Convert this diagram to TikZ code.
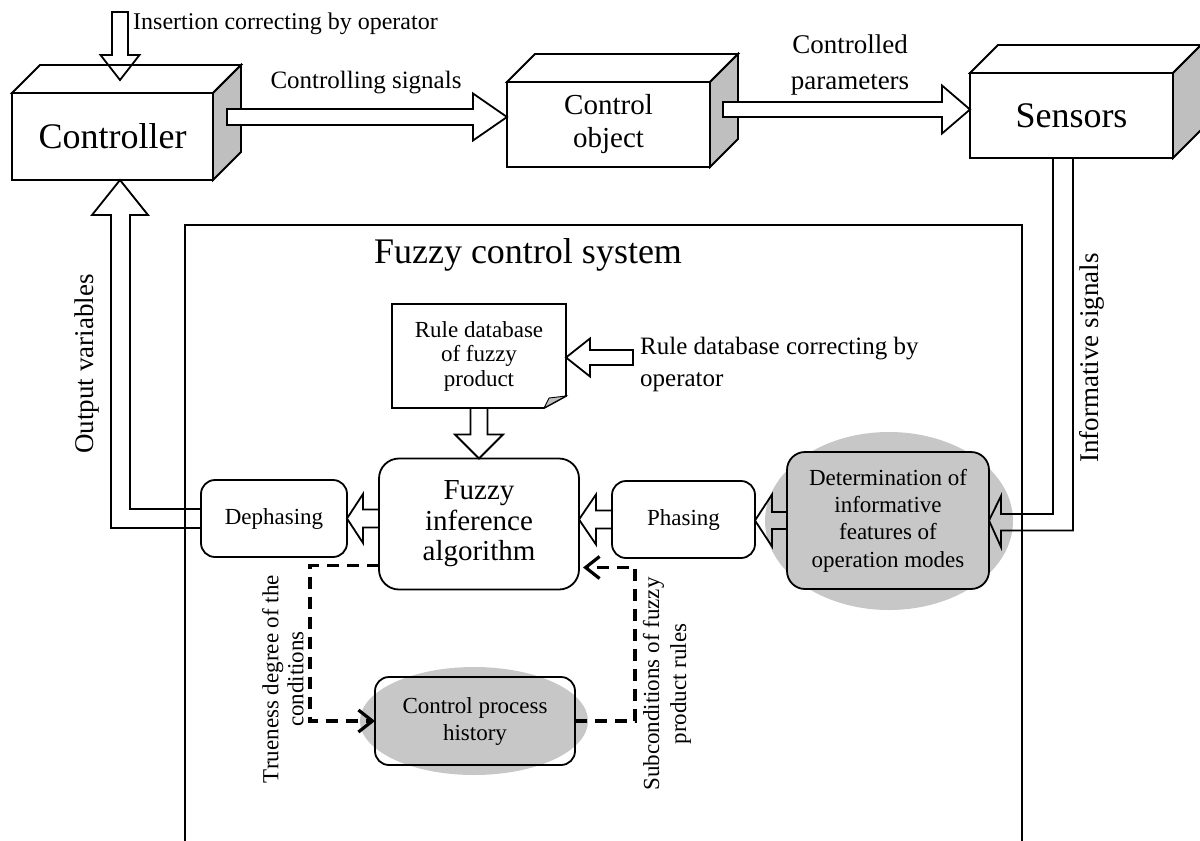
\documentclass[tikz,border=0pt]{standalone}
\usepackage{fontspec}
\setmainfont{Liberation Serif}
\usetikzlibrary{shapes.geometric, positioning, calc, arrows.meta}
\colorlet{sidegray}{black!25}
\colorlet{halogray}{black!22}

% top and side faces of a box node
\newcommand{\cubefaces}[1]{%
  \draw[boxline, fill=white] (#1.north west) -- ++(28,-28) -- ($(#1.north east)+(28,-28)$) -- (#1.north east) -- cycle;
  \draw[boxline, fill=sidegray] (#1.north east) -- ++(28,-28) -- ($(#1.south east)+(28,-28)$) -- (#1.south east) -- cycle;
}
% straight hollow arrow: [style]{tail}{tip}{half shaft}{half head}{head length}
\newcommand{\hollowarrow}[6][]{%
  \coordinate (ha-base) at ($(#3)!#6!(#2)$);
  \draw[fatarrow, #1] ($(#2)!#4!90:(#3)$) -- ($(ha-base)!#4!90:(#3)$) -- ($(ha-base)!#5!90:(#3)$) -- (#3) -- ($(ha-base)!#5!-90:(#3)$) -- ($(ha-base)!#4!-90:(#3)$) -- ($(#2)!#4!-90:(#3)$) -- cycle;
}

\begin{document}
\begin{tikzpicture}[x=1pt, y=-1pt,
  boxline/.style={line width=1.8pt, line join=miter},
  cube/.style={rectangle, draw, boxline, fill=white, inner sep=0pt, outer sep=0pt, align=center},
  unit/.style={rectangle, rounded corners=14pt, draw, boxline, fill=white, inner sep=0pt, outer sep=0pt, align=center, font=\fontsize{23}{27}\selectfont},
  halo/.style={ellipse, fill=halogray, inner sep=0pt},
  fatarrow/.style={draw, boxline},
  dashline/.style={line width=3.2pt, dash pattern=on 12pt off 8pt, -{Straight Barb[length=14pt, width=22pt]}},
  caption/.style={inner sep=0pt, align=center}]
\useasboundingbox (0,0) rectangle (1200,841);

% Plant

\node[cube, minimum width=201pt, minimum height=87pt, font=\fontsize{36}{40}\selectfont] (controller) at (112.5,136.5) {Controller};
\node[cube, minimum width=203pt, minimum height=85pt, font=\fontsize{29}{33}\selectfont] (object) at (608.5,124.5) {Control\\object};
\node[cube, minimum width=203pt, minimum height=85pt, font=\fontsize{36}{40}\selectfont] (sensors) at (1071.5,115.5) {Sensors};
\cubefaces{controller}
\cubefaces{object}
\cubefaces{sensors}

% Fuzzy control system

\node[halo, minimum width=248pt, minimum height=178pt] (determhalo) at (889,521) {};
\node[halo, minimum width=228pt, minimum height=108pt] (cphhalo) at (474,721) {};

\draw[line width=1.4pt] (185,841) |- (1022,225) -- (1022,841);
\node[caption, font=\fontsize{36}{40}\selectfont] (fcstitle) at (528,255) {Fuzzy control system};

\node[inner sep=0pt, outer sep=0pt, minimum width=174pt, minimum height=104pt, align=center, font=\fontsize{23}{24.5}\selectfont] (ruledb) at (479,356) {Rule database\\of fuzzy\\product};
\draw[boxline] (ruledb.north west) -- (ruledb.north east) -- ($(ruledb.south east)+(0,-12)$) -- ($(ruledb.south east)+(-22,0)$) -- (ruledb.south west) -- cycle;
\filldraw[fill=sidegray, line width=0.9pt] ($(ruledb.south east)+(-22,0)$) -- ($(ruledb.south east)+(0,-12)$) -- ($(ruledb.south east)+(-17,-10)$) -- cycle;

\node[unit, rounded corners=20pt, minimum width=200pt, minimum height=131pt, font=\fontsize{29}{30.5}\selectfont] (fuzzy) at (479,524) {Fuzzy\\inference\\algorithm};
\node[unit, minimum width=146pt, minimum height=77pt] (deph) at (274,518.5) {Dephasing};
\node[unit, minimum width=143pt, minimum height=77pt] (phas) at (683.5,519.5) {Phasing};
\node[unit, fill=halogray, rounded corners=18pt, minimum width=202pt, minimum height=137pt, font=\fontsize{23}{27.3}\selectfont] (determ) at (888,520.5) {Determination of\\informative\\features of\\operation modes};
\node[unit, fill=none, minimum width=200pt, minimum height=88pt] (cph) at (475,721) {Control process\\history};

% Hollow arrows

\coordinate (ins-tail) at (120,12);
\coordinate (ins-tip) at (120,80);
\hollowarrow{ins-tail}{ins-tip}{8pt}{19.5pt}{25pt}

\coordinate (cs-tail) at (227,117);
\coordinate (cs-tip) at (object.west |- cs-tail);
\hollowarrow[fill=white]{cs-tail}{cs-tip}{8pt}{23.5pt}{34pt}

\coordinate (cp-tail) at (723,109.5);
\coordinate (cp-tip) at (sensors.west |- cp-tail);
\hollowarrow[fill=white]{cp-tail}{cp-tip}{7.5pt}{24pt}{28pt}

\coordinate (rc-tail) at (633,357.5);
\coordinate (rc-tip) at (ruledb.east |- rc-tail);
\hollowarrow{rc-tail}{rc-tip}{7.5pt}{19pt}{24pt}

\hollowarrow{ruledb.south}{fuzzy.north}{8.5pt}{24pt}{24pt}

\coordinate (dp-tip) at (phas.east |- determ.west);
\hollowarrow{determ.west}{dp-tip}{8.5pt}{26pt}{17pt}

\coordinate (pf-tip) at (fuzzy.east |- phas.west);
\hollowarrow{phas.west}{pf-tip}{9pt}{25pt}{17pt}

\coordinate (fd-tail) at (fuzzy.west |- deph.west);
\hollowarrow{fd-tail}{deph.east}{9pt}{24.5pt}{16pt}

\coordinate (ov-tip) at (120,180);
\draw[fatarrow] ($(deph.west)+(0,-9.5)$) -| (130,215) -- (148,215) -- (ov-tip) -- (92,215) -- (111,215) |- ($(deph.west)+(0,9.5)$);

\draw[fatarrow] ($(sensors.south)+(-18.5,0)$) |- (1001,514) -- (1001,496) -- (determ.east) -- (1001,547) -- (1001,530.5) -| ($(sensors.south)+(1.5,0)$);

% Dashed links

\coordinate (tr-start) at ($(fuzzy.south west)+(0,-24)$);
\draw[dashline] (tr-start) -- ++(-69,0) |- (cph.west);
\coordinate (sc-tip) at ($(fuzzy.south east)+(4,-22)$);
\draw[dashline] (cph.east) -- ++(60,0) |- (sc-tip);

% Labels

\node[anchor=base west, inner sep=0pt, font=\fontsize{24}{28}\selectfont] (instext) at (133,29) {Insertion correcting by operator};
\node[caption, font=\fontsize{25}{28}\selectfont] (ctrlsig) at (366,83) {Controlling signals};
\node[caption, font=\fontsize{27}{36}\selectfont] (ctrlpar) at (850,65) {Controlled\\parameters};
\node[caption, align=left, anchor=west, font=\fontsize{25}{32}\selectfont] (rdbcorr) at (640,364) {Rule database correcting by\\operator};
\node[caption, rotate=90, font=\fontsize{27}{30}\selectfont] (outvar) at (87,364) {Output variables};
\node[caption, rotate=90, font=\fontsize{27}{30}\selectfont] (infsig) at (1092,358) {Informative signals};
\node[caption, rotate=90, font=\fontsize{23}{25}\selectfont] (trueness) at (283,679) {Trueness degree of the\\conditions};
\node[caption, rotate=90, font=\fontsize{23}{27}\selectfont] (subcond) at (667,684) {Subconditions of fuzzy\\product rules};

\end{tikzpicture}
\end{document}
